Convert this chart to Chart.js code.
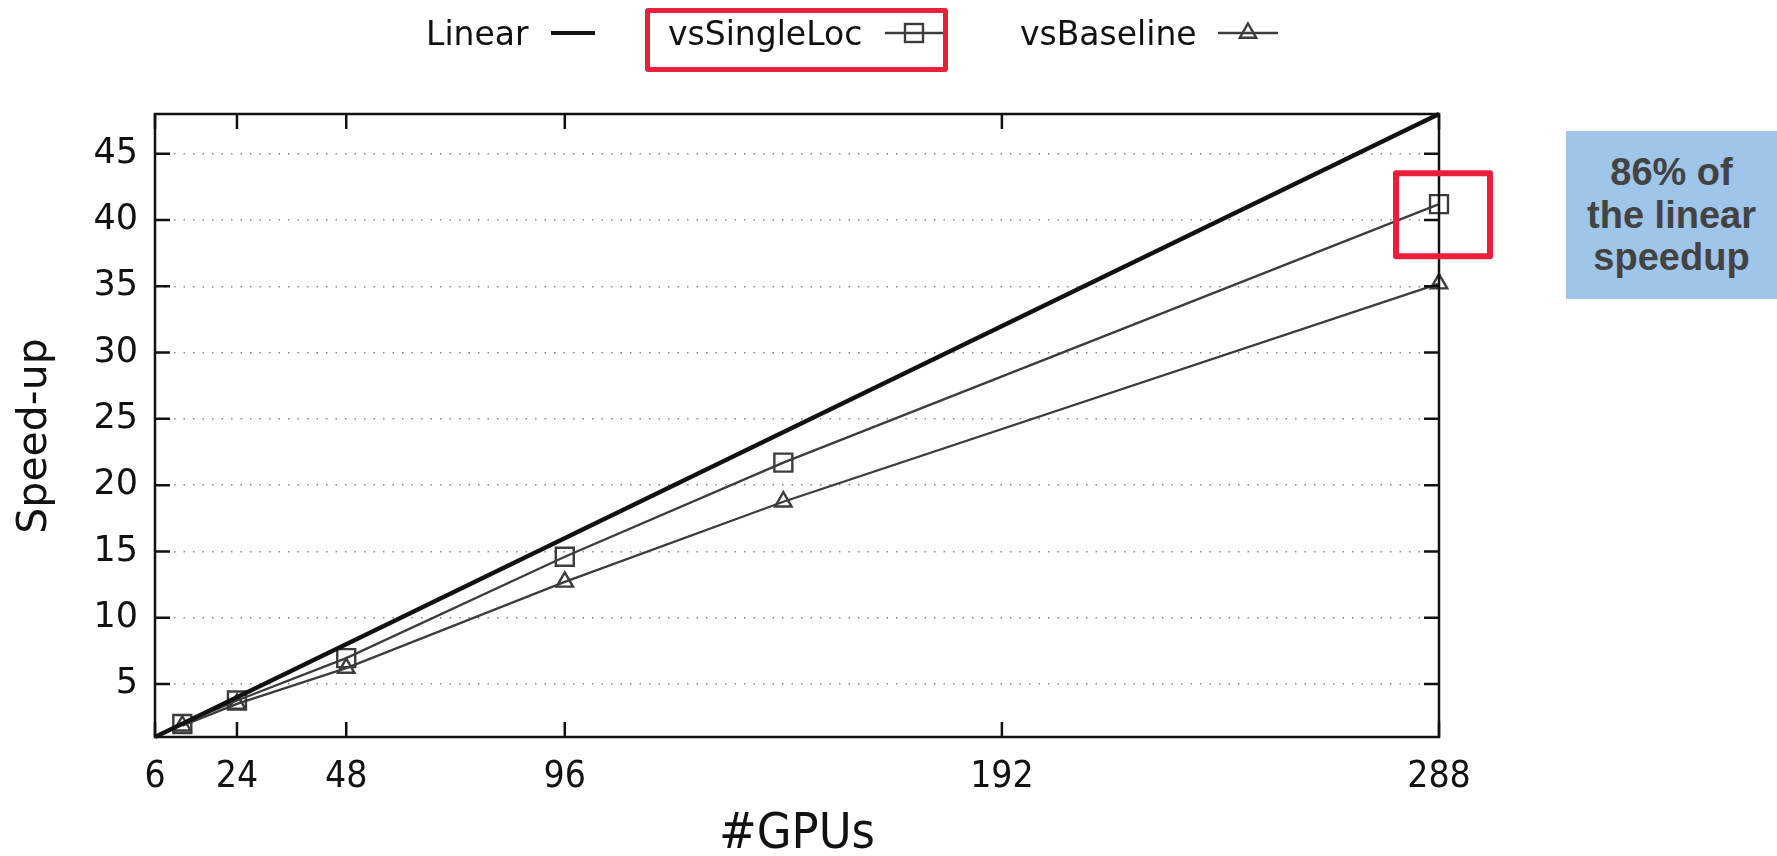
<!DOCTYPE html>
<html>
<head>
<meta charset="utf-8">
<script src="https://cdn.jsdelivr.net/npm/chart.js@4"></script>
<style>
  html, body { margin: 0; padding: 0; background: #fff; }
  #wrap { position: relative; width: 1777px; height: 856px; overflow: hidden; }
  #chart { position: absolute; left: 0; top: 0; }
  .leg { position: absolute; font-family: "DejaVu Sans", sans-serif; font-size: 33px; color: #111; line-height: 40px; white-space: nowrap; }
  .sample { position: absolute; }
  #hl { position: absolute; left: 645px; top: 8px; width: 293px; height: 54px; border: 5px solid #eb1f3a; border-radius: 3px; }
  #note { position: absolute; left: 1566px; top: 131px; width: 211px; height: 168px; background: #9fc5e8;
          display: flex; align-items: center; justify-content: center; text-align: center;
          font-family: "Liberation Sans", Arial, sans-serif; font-weight: bold; font-size: 38px; line-height: 42.5px; color: #434343; }
</style>
</head>
<body>
<div id="wrap">
  <canvas id="chart" width="1777" height="856"></canvas>
  <div id="legend"></div>
  <div id="hl"></div>
  <div id="note">86% of<br>the linear<br>speedup</div>
</div>
<script>
// data
const seriesNames = ['Linear', 'vsSingleLoc', 'vsBaseline'];
const linearX = [6, 288];
const linearY = [1, 48];
const gpus = [12, 24, 48, 96, 144, 288];
const singleLoc = [1.98, 3.75, 6.95, 14.6, 21.7, 41.2];
const baseline = [1.85, 3.5, 6.2, 12.7, 18.75, 35.2];
const xTicks = [6, 24, 48, 96, 192, 288];
const yTicks = [5, 10, 15, 20, 25, 30, 35, 40, 45];
const yTitle = 'Speed-up';

const toPts = (xs, ys) => xs.map((x, i) => ({x, y: ys[i]}));

// frame + inward tick marks like gnuplot, red highlight round last point, y title
const framePlugin = {
  id: 'frame',
  afterDatasetsDraw(chart){
    const {ctx, chartArea: a, scales} = chart;
    ctx.save();
    ctx.strokeStyle = '#111';
    ctx.lineWidth = 2.5;
    ctx.strokeRect(a.left, a.top, a.right - a.left, a.bottom - a.top);
    ctx.beginPath();
    yTicks.forEach(v => {
      const y = scales.y.getPixelForValue(v);
      ctx.moveTo(a.left, y); ctx.lineTo(a.left + 15, y);
      ctx.moveTo(a.right, y); ctx.lineTo(a.right - 15, y);
    });
    xTicks.forEach(v => {
      const x = scales.x.getPixelForValue(v);
      ctx.moveTo(x, a.bottom); ctx.lineTo(x, a.bottom - 15);
      ctx.moveTo(x, a.top); ctx.lineTo(x, a.top + 15);
    });
    ctx.stroke();

    // red box around the 288 GPU point of vsSingleLoc
    const last = gpus.length - 1;
    const px = scales.x.getPixelForValue(gpus[last]);
    const py = scales.y.getPixelForValue(singleLoc[last]);
    ctx.strokeStyle = '#eb1f3a';
    ctx.lineWidth = 6;
    ctx.lineJoin = 'round';
    ctx.strokeRect(px - 43, py - 31, 94, 83);

    // y axis title, a bit below the middle as in the original
    ctx.translate(35, 436);
    ctx.rotate(-Math.PI / 2);
    ctx.fillStyle = '#111';
    ctx.font = '41px "DejaVu Sans"';
    ctx.textAlign = 'center';
    ctx.textBaseline = 'middle';
    ctx.fillText(yTitle, 0, 0);
    ctx.restore();
  }
};

const ctx = document.getElementById('chart').getContext('2d');
new Chart(ctx, {
  type: 'line',
  data: {
    datasets: [
      { label: seriesNames[0], data: toPts(linearX, linearY), borderColor: '#111', borderWidth: 4.2, pointRadius: 0, fill: false, clip: false },
      { label: seriesNames[1], data: toPts(gpus, singleLoc), borderColor: '#3c3c3c', borderWidth: 2.3, fill: false, clip: false,
        pointStyle: 'rect', pointRadius: 12.7, pointBorderWidth: 2.4, pointBorderColor: '#3c3c3c', pointBackgroundColor: 'rgba(0,0,0,0)' },
      { label: seriesNames[2], data: toPts(gpus, baseline), borderColor: '#3c3c3c', borderWidth: 2.3, fill: false, clip: false,
        pointStyle: 'triangle', pointRadius: 9.5, pointBorderWidth: 2.4, pointBorderColor: '#3c3c3c', pointBackgroundColor: 'rgba(0,0,0,0)' }
    ]
  },
  options: {
    responsive: false,
    animation: false,
    devicePixelRatio: 1,
    layout: { padding: { left: 0, right: 338, top: 114, bottom: 0 } },
    plugins: { legend: { display: false }, tooltip: { enabled: false } },
    scales: {
      x: {
        type: 'linear', min: 6, max: 288,
        afterBuildTicks: s => { s.ticks = xTicks.map(v => ({value: v})); },
        afterFit: s => { s.height = 119; },
        grid: { display: false, drawTicks: false },
        border: { display: false },
        ticks: { color: '#111', padding: 18, font: { family: 'DejaVu Sans Condensed', size: 37 } },
        title: { display: true, text: '#GPUs', color: '#111', padding: { top: 0, bottom: -4 },
                 font: { family: 'DejaVu Sans Condensed', size: 50, lineHeight: 1 } }
      },
      y: {
        type: 'linear', min: 1, max: 48,
        afterBuildTicks: s => { s.ticks = yTicks.map(v => ({value: v})); },
        afterFit: s => { s.width = 155; },
        grid: { color: '#888', lineWidth: 1.5, drawTicks: false },
        border: { display: false, dash: [1.5, 8] },
        ticks: { color: '#111', padding: 17, font: { family: 'DejaVu Sans', size: 35 } }
      }
    }
  },
  plugins: [framePlugin]
});

// legend at the top (html text + small svg samples)
const legendPos = [
  { text: 426, lx1: 551, lx2: 595, mark: null, w: 4.2, col: '#111' },
  { text: 668, lx1: 885, lx2: 943, mark: 'rect', w: 2.3, col: '#3c3c3c' },
  { text: 1020, lx1: 1218, lx2: 1278, mark: 'tri', w: 2.3, col: '#3c3c3c' }
];
const legY = 35;
const legend = document.getElementById('legend');
seriesNames.forEach((name, i) => {
  const p = legendPos[i];
  const t = document.createElement('div');
  t.className = 'leg';
  t.style.left = p.text + 'px';
  t.style.top = (legY - 21) + 'px';
  t.textContent = name;
  legend.appendChild(t);
  const w = p.lx2 - p.lx1;
  const cx = w / 2;
  let mk = '';
  if (p.mark === 'rect') mk = `<rect x="${cx - 9}" y="11" width="18" height="18" fill="none" stroke="${p.col}" stroke-width="2.4"/>`;
  if (p.mark === 'tri') mk = `<polygon points="${cx},10.5 ${cx + 8.2},24.7 ${cx - 8.2},24.7" fill="none" stroke="${p.col}" stroke-width="2.4"/>`;
  const s = document.createElement('div');
  s.className = 'sample';
  s.style.left = p.lx1 + 'px';
  s.style.top = (legY - 22) + 'px';
  s.innerHTML = `<svg width="${w}" height="40"><line x1="0" y1="20" x2="${w}" y2="20" stroke="${p.col}" stroke-width="${p.w}"/>${mk}</svg>`;
  legend.appendChild(s);
});
</script>
</body>
</html>
